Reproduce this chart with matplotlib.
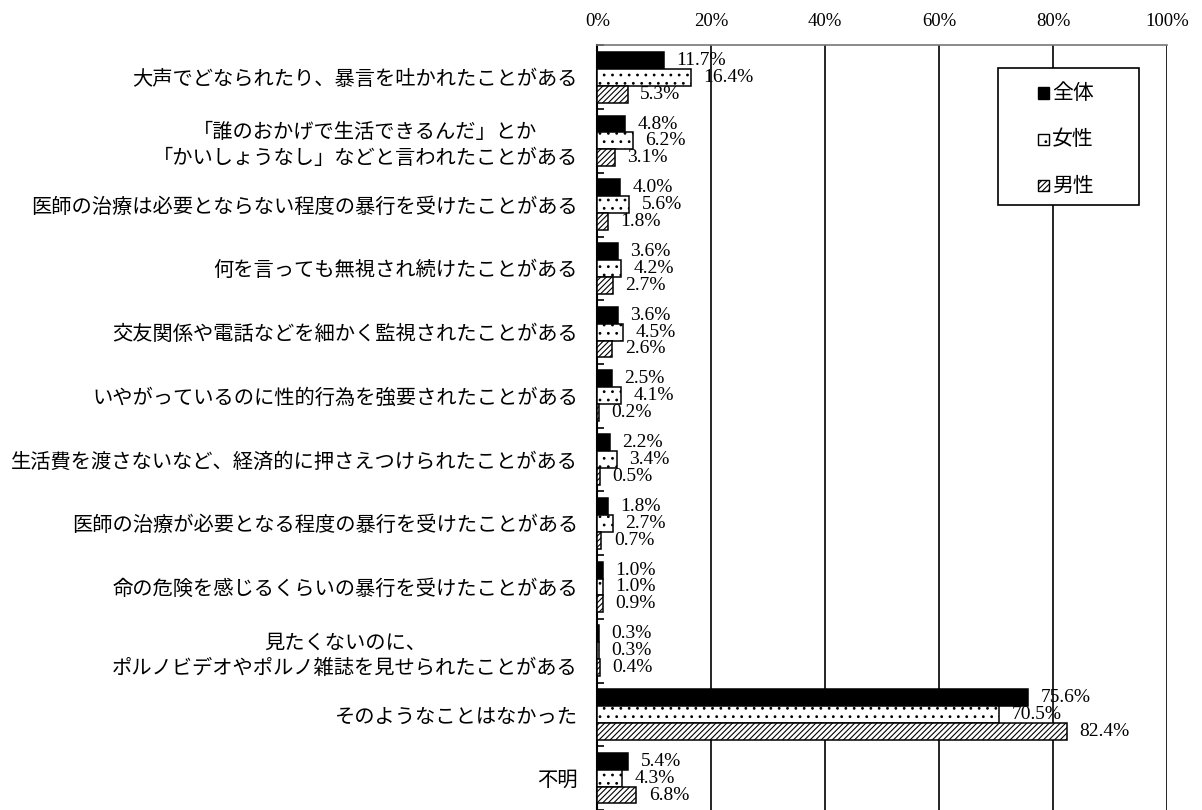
import numpy as np
import matplotlib
matplotlib.use('Agg')
import matplotlib.pyplot as plt
from matplotlib.patches import Rectangle

plt.rcParams['font.family'] = ['Noto Sans CJK JP', 'DejaVu Sans']
plt.rcParams['hatch.linewidth'] = 0.8

categories = [
    '大声でどなられたり、暴言を吐かれたことがある',
    '「誰のおかげで生活できるんだ」とか\n「かいしょうなし」などと言われたことがある',
    '医師の治療は必要とならない程度の暴行を受けたことがある',
    '何を言っても無視され続けたことがある',
    '交友関係や電話などを細かく監視されたことがある',
    'いやがっているのに性的行為を強要されたことがある',
    '生活費を渡さないなど、経済的に押さえつけられたことがある',
    '医師の治療が必要となる程度の暴行を受けたことがある',
    '命の危険を感じるくらいの暴行を受けたことがある',
    '見たくないのに、\nポルノビデオやポルノ雑誌を見せられたことがある',
    'そのようなことはなかった',
    '不明',
]
series_names = ['全体', '女性', '男性']
total = [11.7, 4.8, 4.0, 3.6, 3.6, 2.5, 2.2, 1.8, 1.0, 0.3, 75.6, 5.4]
female = [16.4, 6.2, 5.6, 4.2, 4.5, 4.1, 3.4, 2.7, 1.0, 0.3, 70.5, 4.3]
male = [5.3, 3.1, 1.8, 2.7, 2.6, 0.2, 0.5, 0.7, 0.9, 0.4, 82.4, 6.8]
xticks = [0, 20, 40, 60, 80, 100]

serif = ['Liberation Serif', 'DejaVu Serif']

fig = plt.figure(figsize=(12.02, 8.10), dpi=100)
ax = fig.add_axes([0.497, 0.0, 0.474, 0.944])

y = np.arange(len(categories))
h = 0.265
styles = [
    dict(color='black', edgecolor='black', hatch=None),
    dict(color='white', edgecolor='black', hatch='..'),
    dict(color='white', edgecolor='black', hatch='//////'),
]
bars = []
for k, vals in enumerate([total, female, male]):
    b = ax.barh(y + (k - 1) * h, vals, height=h, linewidth=1.1,
                label=series_names[k], zorder=3, **styles[k])
    bars.append(b)
    for yy, v in zip(y + (k - 1) * h, vals):
        ax.annotate(f'{v:.1f}%', (v, yy), xytext=(9, 0), textcoords='offset points',
                    va='center', ha='left', fontsize=14, family=serif, zorder=4)

ax.set_xlim(0, 100)
ax.set_ylim(len(categories) - 0.55, -0.465)
ax.xaxis.tick_top()
ax.set_xticks(xticks)
ax.set_xticklabels([f'{t}%' for t in xticks], family=serif, fontsize=13.5)
ax.tick_params(axis='x', length=0, pad=11)
ax.grid(axis='x', color='black', linewidth=1.2, zorder=0)

ax.set_yticks(y)
ax.set_yticklabels(categories, fontsize=14.6, multialignment='center', linespacing=1.3)
ax.tick_params(axis='y', which='major', length=0, pad=14)
ax.set_yticks(np.arange(len(categories) + 1) - 0.5, minor=True)
ax.tick_params(axis='y', which='minor', direction='in', length=5, width=1.2)

ax.spines['left'].set_linewidth(1.5)
ax.spines['top'].set_color('#777777')
ax.spines['top'].set_linewidth(1.2)
ax.spines['right'].set_visible(False)
ax.spines['bottom'].set_visible(False)

# legend box drawn by hand
lx0, lx1, ly0, ly1 = 0.703, 0.951, 0.791, 0.971
ax.add_patch(Rectangle((lx0, ly0), lx1 - lx0, ly1 - ly0, transform=ax.transAxes,
                       facecolor='white', edgecolor='black', linewidth=1.2, zorder=5))
for k, name in enumerate(series_names):
    cy = 0.938 - k * 0.0608
    ax.add_patch(Rectangle((0.774, cy - 0.0075), 0.018, 0.015, transform=ax.transAxes,
                           facecolor=styles[k]['color'], edgecolor='black',
                           hatch=styles[k]['hatch'], linewidth=1.0, zorder=6))
    ax.text(0.798, cy, name, transform=ax.transAxes, va='center', ha='left',
            fontsize=15, zorder=6)

fig.savefig('out.png', dpi=100)
